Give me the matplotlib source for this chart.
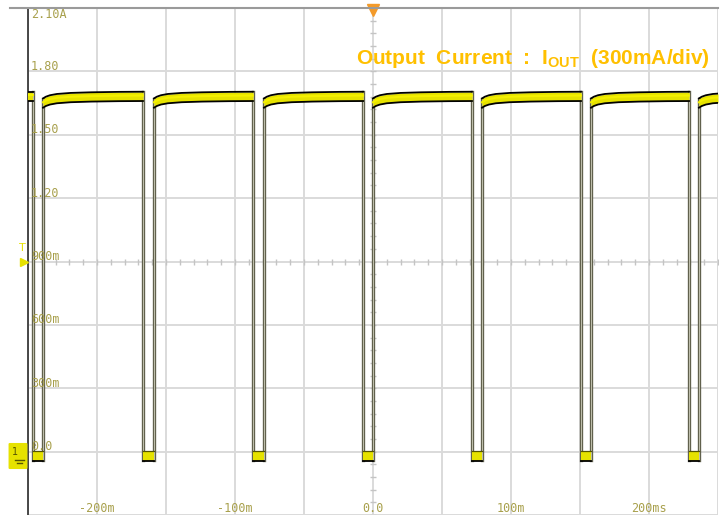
import numpy as np
import matplotlib
matplotlib.use('Agg')
import matplotlib.pyplot as plt
from matplotlib.lines import Line2D
from matplotlib.patches import FancyBboxPatch

plt.rcParams['mathtext.fontset'] = 'custom'
plt.rcParams['mathtext.bf'] = 'Liberation Sans:bold'

# scope capture (time in ms, current in A)
fall_ms = [-246.4, -166.7, -87.0, -7.2, 71.7, 150.7, 229.0]
rise_ms = [-239.1, -158.7, -79.0, 0.0, 79.0, 158.0, 236.2]
low_level = -0.02
# settling of the high level after each rising edge
settle_dt = [0, 2, 5, 10, 20, 35, 55, 80]
settle_i = [1.650, 1.658, 1.665, 1.671, 1.676, 1.679, 1.681, 1.682]

y_ticks = [2.1, 1.8, 1.5, 1.2, 0.9, 0.6, 0.3, 0.0]
y_labels = ['2.10A', '1.80', '1.50', '1.20', '900m', '600m', '300m', '0.0']
x_ticks = [-200, -100, 0, 100, 200]
x_labels = ['-200m', '-100m', '0.0', '100m', '200ms']

yellow = '#e6e200'
lab_col = '#a8a04c'
grid_col = '#dadada'

fig = plt.figure(figsize=(7.25, 5.15), dpi=100)
ax = fig.add_axes([28 / 725, 0, 690 / 725, 507 / 515])
ax.set_xlim(-250, 250)
ax.set_ylim(-0.3, 2.1)
for s in ['top', 'right', 'bottom']:
    ax.spines[s].set_visible(False)
ax.spines['left'].set_color('#3a3a3a')
ax.spines['left'].set_linewidth(1.3)
ax.set_xticks(np.arange(-250, 251, 50))
ax.set_yticks(np.arange(-0.3, 2.11, 0.3))
ax.grid(color=grid_col, lw=1.4)
ax.set_axisbelow(True)
ax.tick_params(length=0, labelbottom=False, labelleft=False)

# centre crosshair minor ticks
mx = np.arange(-250, 251, 10)
ax.plot(mx, [0.9] * len(mx), ls='none', marker='|', ms=5, mew=1, color='#c4c4c4', zorder=1)
my = np.arange(-0.3, 2.1, 0.06)
ax.plot([0] * len(my), my, ls='none', marker='_', ms=5, mew=1, color='#c4c4c4', zorder=1)

# top border line
fig.add_artist(Line2D([10 / 725, 718 / 725], [1 - 8 / 515] * 2, color='#9a9a9a', lw=1.5))


def high_seg(t0, t1):
    t = [t0 + d for d in settle_dt if t0 + d < t1] + [t1]
    i = list(np.interp(t, np.array(settle_dt) + t0, settle_i))
    return np.array(t), np.array(i)


segments = []
# before first falling edge (already settled)
segments.append((np.array([-250, fall_ms[0]]), np.array([settle_i[-1]] * 2)))
for k in range(len(rise_ms)):
    t1 = fall_ms[k + 1] if k + 1 < len(fall_ms) else 250
    segments.append(high_seg(rise_ms[k], t1))

# edges
for f, r in zip(fall_ms, rise_ms):
    for t, top in ((f, settle_i[-1] + 0.02), (r, settle_i[0] + 0.02)):
        ax.plot([t, t], [low_level - 0.02, top], color='#5c5c48', lw=2.4, zorder=3)
        ax.plot([t, t], [low_level - 0.02, top], color='#bdbdaa', lw=0.8, zorder=3)

# high bands
for t, i in segments:
    ax.fill_between(t, i - 0.021, i + 0.021, color=yellow, lw=0, zorder=4)
    ax.plot(t, i + 0.022, color='black', lw=1.3, zorder=5)
    ax.plot(t, i - 0.022, color='black', lw=1.3, zorder=5)
    ax.plot(t, i + 0.004, color='#f4f000', lw=1.5, zorder=5)

# low blocks
for f, r in zip(fall_ms, rise_ms):
    ax.fill_between([f, r], low_level - 0.024, low_level + 0.022, color=yellow, lw=0, zorder=4)
    ax.plot([f, r], [low_level - 0.026] * 2, color='black', lw=1.3, zorder=5)
    ax.plot([f, r], [low_level + 0.024] * 2, color='#555500', lw=0.9, zorder=5)

# axis labels inside the screen
for v, s in zip(y_ticks, y_labels):
    off = -7 if v == 2.1 else 5
    ax.annotate(s, xy=(-250, v), xytext=(3, off), textcoords='offset pixels',
                ha='left', va='center', fontsize=8.5, family='DejaVu Sans Mono',
                color=lab_col)
for t, s in zip(x_ticks, x_labels):
    ax.annotate(s, xy=(t, -0.3), xytext=(0, 7), textcoords='offset pixels',
                ha='center', va='center', fontsize=8.5, family='DejaVu Sans Mono',
                color=lab_col)

# trigger position marker
ax.plot(0, 2.1 - 0.01, marker='v', ms=8, color='#f39a2a', clip_on=False, zorder=6)
# trigger level marker
fig.text(22 / 725, 1 - 248 / 515, 'T', color=yellow, fontsize=8, ha='center', va='center')
ax.plot(-253, 0.9, marker='>', ms=6, color=yellow, clip_on=False, zorder=6)
# channel ground marker
fig.add_artist(FancyBboxPatch((10 / 725, 1 - 468 / 515), 16 / 725, 24 / 515,
                              boxstyle='round,pad=0.002', color=yellow, lw=0))
fig.text(15 / 725, 1 - 452 / 515, '1', color='#555500', fontsize=7, ha='center', va='center')
fig.add_artist(Line2D([15 / 725, 24 / 725], [1 - 460 / 515] * 2, color='#555500', lw=1))
fig.add_artist(Line2D([17 / 725, 22 / 725], [1 - 463 / 515] * 2, color='#555500', lw=1))

fig.text((358 + 708) / 2 / 725, 1 - 58 / 515,
         r'Output  Current  :  I$_\mathbf{OUT}$  (300mA/div)',
         ha='center', va='center', fontsize=15, weight='bold',
         family='Liberation Sans', color='#ffc000')

fig.savefig('out.png', dpi=100)
